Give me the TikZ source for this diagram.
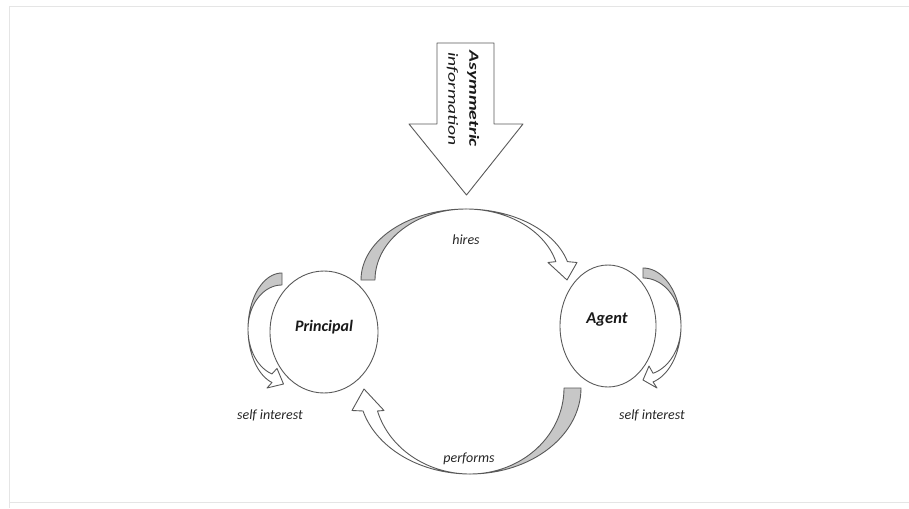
\documentclass[tikz,border=0pt]{standalone}
\usepackage{fontspec}
\setmainfont{Carlito}
\usepackage{graphicx}
\begin{document}
\begin{tikzpicture}[x=1pt,y=-1pt,
  shp/.style={draw=black!65, line width=0.9pt, fill=white, line join=round},
  back/.style={draw=black!65, line width=0.9pt, fill=black!22, line join=round},
  lbl/.style={font=\fontsize{14}{16}\selectfont\itshape, text=black!85, inner sep=0pt},
  actor/.style={ellipse, draw=black!65, line width=0.9pt, fill=white, inner sep=0pt, font=\fontsize{16}{18}\selectfont\bfseries\itshape, text=black!90},
  frame/.style={draw=black!10, line width=1pt}]
\useasboundingbox (0,0) rectangle (909,508);
% faint frame
\draw[frame] (9,508) -- (9,7) -- (909,7);
\draw[frame] (9,502) -- (909,502);

% big arrow
\draw[shp] (437,43) -- (494,43) -- (494,124) -- (523,124) -- (466.5,195) -- (409,124) -- (437,124) -- cycle;
\node[rotate=-90, inner sep=0pt, text=black!90] (asym) at (463,99)
  {\scalebox{1.4}[1]{\fontsize{14}{21}\selectfont\begin{tabular}{@{}c@{}}\textbf{\itshape Asymmetric}\\ \itshape information\end{tabular}}};

% actors
\draw[shp] (324,332) ellipse [x radius=54, y radius=61];
\node[font=\fontsize{16}{18}\selectfont\bfseries\itshape, text=black!90, inner sep=0pt] (principal) at (324,327) {Principal};
\draw[shp] (608,326) ellipse [x radius=48, y radius=61];
\node[font=\fontsize{16.5}{18}\selectfont\bfseries\itshape, text=black!90, inner sep=0pt] (agent) at (607,320) {Agent};

% hires arrow
\draw[back] plot[domain=180:90,samples=40] ({466+105*cos(\x)},{280-71*sin(\x)})
  -- plot[domain=90:180,samples=40] ({466+91*cos(\x)},{280-71*sin(\x)}) -- cycle;
\draw[shp] plot[domain=90:15,samples=40] ({466+105*cos(\x)},{280-71*sin(\x)})
  -- (577,262.5) -- (567,280) -- (548,262.5)
  -- plot[domain=15:90,samples=40] ({466+93*cos(\x)},{280-71*sin(\x)}) -- cycle;
\node[lbl] (hires) at (466,240) {hires};

% performs arrow
\draw[back] plot[domain=0:-90,samples=40] ({470+111*cos(\x)},{388-86*sin(\x)})
  -- plot[domain=-90:0,samples=40] ({470+94*cos(\x)},{388-86*sin(\x)}) -- cycle;
\draw[shp] plot[domain=-90:-164.5,samples=40] ({470+111*cos(\x)},{388-86*sin(\x)})
  -- (352,410.5) -- (364,389) -- (384,410.5)
  -- plot[domain=-164.5:-90,samples=40] ({470+96*cos(\x)},{388-86*sin(\x)}) -- cycle;
\node[lbl] (performs) at (469,459) {performs};

% principal self interest
\draw[back] plot[domain=90:180,samples=40] ({282+34*cos(\x)},{329-56*sin(\x)})
  -- plot[domain=180:90,samples=40] ({282+34*cos(\x)},{329-44*sin(\x)}) -- cycle;
\draw[shp] plot[domain=180:252.9,samples=40] ({282+34*cos(\x)},{329-56*sin(\x)})
  -- (267,388) -- (283.5,384) -- (277,368.4)
  -- plot[domain=252.9:180,samples=40] ({282+34*cos(\x)},{329-47*sin(\x)}) -- cycle;
\node[lbl] (selfp) at (270,415) {self interest};

% agent self interest
\draw[back] plot[domain=90:0,samples=40] ({643+38*cos(\x)},{326-58*sin(\x)})
  -- plot[domain=0:90,samples=40] ({643+38*cos(\x)},{326-48*sin(\x)}) -- cycle;
\draw[shp] plot[domain=0:-74.7,samples=40] ({643+38*cos(\x)},{326-58*sin(\x)})
  -- (657,388) -- (643,380) -- (649,366)
  -- plot[domain=-74.7:0,samples=40] ({643+38*cos(\x)},{326-49*sin(\x)}) -- cycle;
\node[lbl] (selfa) at (652,415) {self interest};
\end{tikzpicture}
\end{document}
